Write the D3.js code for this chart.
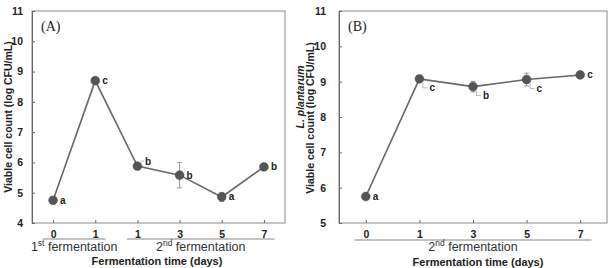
<!DOCTYPE html>
<html><head><meta charset="utf-8">
<script src="https://cdn.jsdelivr.net/npm/d3@7"></script>
<style>
html,body{margin:0;padding:0;background:#fff;}
svg{display:block;font-family:"Liberation Sans",Arial,sans-serif;}
</style></head>
<body><svg id="c" width="614" height="268"></svg>
<script>
// Panel A data
const catsA = ["0","1","1","3","5","7"];
const valuesA = [4.75, 8.70, 5.88, 5.58, 4.86, 5.85];
const errA = [0.04, 0.04, 0.10, 0.42, 0.15, 0.04];
const lettersA = ["a","c","b","b","a","b"];
const placeA = ["r","r","ur","r","r","r"];
const yTicksA = [4,5,6,7,8,9,10,11];
const groupsA = [{label:"1", sup:"st", rest:" fermentation", from:0, to:1},
                 {label:"2", sup:"nd", rest:" fermentation", from:2, to:5}];

// Panel B data
const catsB = ["0","1","3","5","7"];
const valuesB = [5.75, 9.08, 8.86, 9.06, 9.19];
const errB = [0.0, 0.05, 0.15, 0.18, 0.05];
const lettersB = ["a","c","b","c","c"];
const placeB = ["r","dr","dr","dr","r"];
const yTicksB = [5,6,7,8,9,10,11];
const groupsB = [{label:"2", sup:"nd", rest:" fermentation", from:0, to:4}];

const svg = d3.select("#c");

function panel(o){
  const g = svg.append("g");
  const idx = o.cats.map((d,i)=>i);
  const x = d3.scalePoint().domain(idx).range([o.x0,o.x1]).padding(0.5);
  const y = d3.scaleLinear().domain(o.ydom).range([o.y1,o.y0]);
  g.append("rect").attr("x",o.x0).attr("y",o.y0).attr("width",o.x1-o.x0).attr("height",o.y1-o.y0)
    .attr("fill","none").attr("stroke","#8a8a8a").attr("stroke-width",1);
  const ya = d3.axisLeft(y).tickValues(o.yticks).tickSize(-3).tickPadding(o.ypad).tickFormat(d3.format("d"));
  const yg = g.append("g").attr("transform",`translate(${o.x0},0)`).call(ya);
  yg.select(".domain").attr("stroke","#666");
  yg.selectAll(".tick line").attr("stroke","#666");
  yg.selectAll("text").attr("font-size",10.5).attr("font-weight","bold").attr("fill","#222")
    .attr("font-family","Liberation Sans, Arial, sans-serif");
  const xa = d3.axisBottom(x).tickSize(-3).tickPadding(8).tickFormat(i=>o.cats[i]);
  const xg = g.append("g").attr("transform",`translate(0,${o.y1})`).call(xa);
  xg.select(".domain").remove();
  xg.selectAll(".tick line").attr("stroke","#666");
  xg.selectAll("text").attr("font-size",10.5).attr("font-weight","bold").attr("fill","#222")
    .attr("font-family","Liberation Sans, Arial, sans-serif");
  const step = x.step();
  o.groups.forEach(gr=>{
    const a = x(gr.from)-step*o.ext, b = x(gr.to)+step*o.ext;
    g.append("line").attr("x1",a).attr("x2",b).attr("y1",o.uly).attr("y2",o.uly)
      .attr("stroke","#888").attr("stroke-width",1.2);
    const t = g.append("text").attr("x",(a+b)/2+o.gdx).attr("y",o.gly).attr("text-anchor","middle")
      .attr("font-size",12.5).attr("fill","#333");
    t.append("tspan").text(gr.label);
    t.append("tspan").attr("font-size",8.5).attr("dy",-5).text(gr.sup);
    t.append("tspan").attr("dy",5).text(gr.rest);
  });
  g.append("text").attr("x",o.xtx).attr("y",o.xty).attr("text-anchor","middle")
    .attr("font-size",11).attr("font-weight","bold").attr("fill","#222").text("Fermentation time (days)");
  o.ytitles.forEach(t=>{
    g.append("text").attr("transform",`translate(${t.x},${t.cy}) rotate(-90)`).attr("text-anchor","middle")
      .attr("font-size",10.5).attr("font-weight","bold").attr("font-style",t.italic?"italic":"normal")
      .attr("fill","#222").text(t.text);
  });
  g.append("text").attr("x",o.tagx).attr("y",o.tagy).attr("font-family","Liberation Serif, Times New Roman, serif")
    .attr("font-size",14).attr("fill","#222").text(o.tag);
  idx.forEach(i=>{
    const e = o.err[i]; if(!e) return;
    const cx = x(i), ya1 = y(o.vals[i]+e), yb = y(o.vals[i]-e);
    g.append("line").attr("x1",cx).attr("x2",cx).attr("y1",ya1).attr("y2",yb).attr("stroke","#999").attr("stroke-width",1);
    [ya1,yb].forEach(v=>g.append("line").attr("x1",cx-2.5).attr("x2",cx+2.5).attr("y1",v).attr("y2",v).attr("stroke","#999").attr("stroke-width",1));
  });
  g.append("path").datum(idx).attr("fill","none").attr("stroke","#666").attr("stroke-width",1.6)
    .attr("d",d3.line().x(i=>x(i)).y(i=>y(o.vals[i])));
  g.selectAll("circle.m").data(idx).enter().append("circle").attr("cx",i=>x(i)).attr("cy",i=>y(o.vals[i]))
    .attr("r",4.4).attr("fill","#555").attr("stroke","#444").attr("stroke-width",0.5);
  idx.forEach(i=>{
    const cx = x(i), cy = y(o.vals[i]), p = o.place[i];
    let tx = cx+7, ty = cy+3.5;
    if(p==="ur"){ tx = cx+7.5; ty = cy-1.5;
      g.append("line").attr("x1",cx+3).attr("x2",cx+7).attr("y1",cy-5).attr("y2",cy-5).attr("stroke","#aaa").attr("stroke-width",0.8);
    }
    if(p==="dr"){ tx = cx+10; ty = cy+12;
      g.append("path").attr("d",`M${cx+3.5},${cy+4}V${cy+9}H${cx+8}`).attr("fill","none").attr("stroke","#aaa").attr("stroke-width",0.8);
    }
    g.append("text").attr("x",tx).attr("y",ty).attr("font-size",10).attr("font-weight","bold").attr("fill","#222").text(o.letters[i]);
  });
}

panel({cats:catsA, vals:valuesA, err:errA, letters:lettersA, place:placeA, yticks:yTicksA, groups:groupsA,
  x0:32, x1:285, y0:11, y1:223, ydom:[4,11], ypad:9, ext:0.25, uly:239, gly:251, gdx:0,
  xtx:157, xty:265, ytitles:[{x:11.5, cy:117, text:"Viable cell count (log CFU/mL)"}],
  tag:"(A)", tagx:41, tagy:31});

panel({cats:catsB, vals:valuesB, err:errB, letters:lettersB, place:placeB, yticks:yTicksB, groups:groupsB,
  x0:339, x1:607, y0:11, y1:223, ydom:[5,11], ypad:13, ext:0.21, uly:240, gly:251, gdx:0,
  xtx:478, xty:265.5, ytitles:[{x:304, cy:97, text:"L. plantarum", italic:true},{x:314, cy:118, text:"Viable cell count (log CFU/mL)"}],
  tag:"(B)", tagx:348, tagy:31});
</script></body></html>
